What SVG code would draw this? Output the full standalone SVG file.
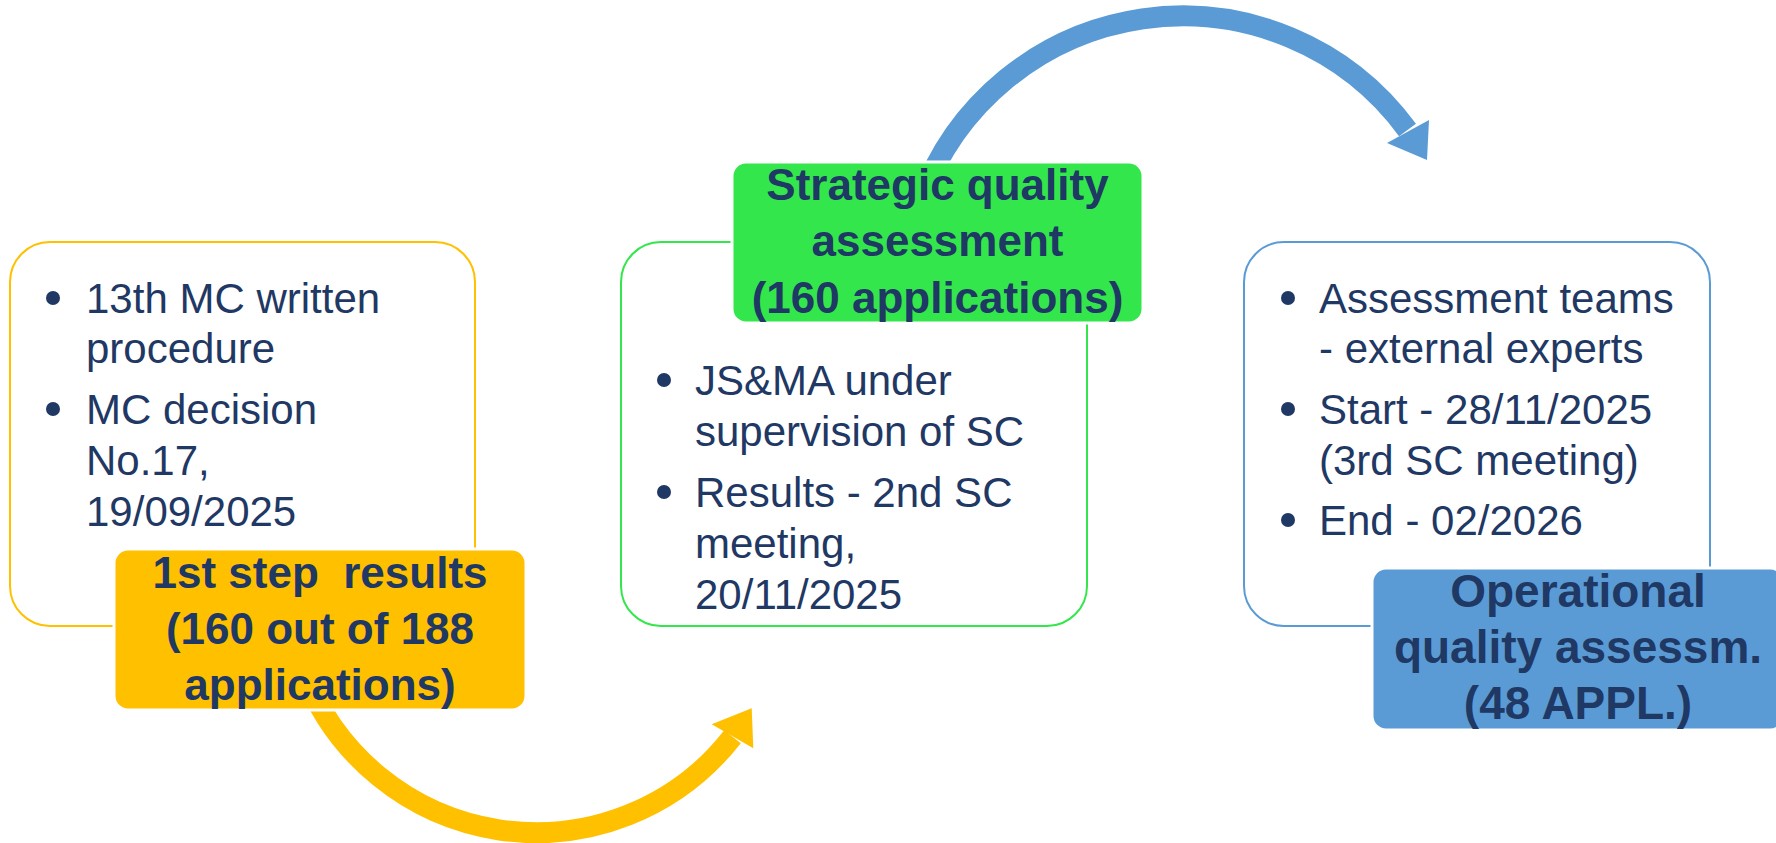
<svg xmlns="http://www.w3.org/2000/svg" width="1776" height="843" viewBox="0 0 1776 843">
  <style>
    .body { font-family: "Liberation Sans", Arial, sans-serif; font-size: 42px; fill: #1F3864; }
    .lbl { font-family: "Liberation Sans", Arial, sans-serif; font-size: 44px; font-weight: bold; fill: #1F3864; text-anchor: middle; white-space: pre; }
    .big { font-size: 46px; }
    .dot { fill: #1F3864; }
    .outline { fill: #FFFFFF; stroke-width: 2; }
    .tag { stroke: #FFFFFF; stroke-width: 3; }
  </style>
  <rect width="1776" height="843" fill="#FFFFFF"/>

  <g id="connectors">
    <path d="M 303.5 671 A 248.5 248.5 0 0 0 732.5 736.7" fill="none" stroke="#FFC000" stroke-width="21"/>
    <polygon points="751.7,708.3 711.7,724.3 753.3,748.3" fill="#FFC000"/>
    <path d="M 920.3 201.3 A 278.5 278.5 0 0 1 1407.5 130" fill="none" stroke="#5B9BD5" stroke-width="21"/>
    <polygon points="1427,160 1387,143 1429,120" fill="#5B9BD5"/>
  </g>

  <g id="box-first-step">
    <rect class="outline" x="10" y="242" width="465" height="384" rx="40" stroke="#FFC000"/>
    <circle class="dot" cx="53" cy="298" r="7"/>
    <circle class="dot" cx="53" cy="409" r="7"/>
    <text class="body" x="86" y="313">13th MC written</text>
    <text class="body" x="86" y="363">procedure</text>
    <text class="body" x="86" y="424">MC decision</text>
    <text class="body" x="86" y="475">No.17,</text>
    <text class="body" x="86" y="526">19/09/2025</text>
  </g>
  <g id="label-first-step">
    <rect class="tag" x="114" y="549" width="412" height="161" rx="14" fill="#FFC000"/>
    <text class="lbl" x="320" y="588">1st step  results</text>
    <text class="lbl" x="320" y="644">(160 out of 188</text>
    <text class="lbl" x="320" y="700">applications)</text>
  </g>

  <g id="box-strategic">
    <rect class="outline" x="621" y="242" width="466" height="384" rx="40" stroke="#33E64B"/>
    <circle class="dot" cx="664" cy="380" r="7"/>
    <circle class="dot" cx="664" cy="492" r="7"/>
    <text class="body" x="695" y="395">JS&amp;MA under</text>
    <text class="body" x="695" y="446">supervision of SC</text>
    <text class="body" x="695" y="507">Results - 2nd SC</text>
    <text class="body" x="695" y="558">meeting,</text>
    <text class="body" x="695" y="609">20/11/2025</text>
  </g>
  <g id="label-strategic">
    <rect class="tag" x="732" y="162" width="411" height="161" rx="14" fill="#33E64B"/>
    <text class="lbl" x="937.5" y="200">Strategic quality</text>
    <text class="lbl" x="937.5" y="256">assessment</text>
    <text class="lbl" x="937.5" y="313">(160 applications)</text>
  </g>

  <g id="box-operational">
    <rect class="outline" x="1244" y="242" width="466" height="384" rx="40" stroke="#5B9BD5"/>
    <circle class="dot" cx="1288" cy="298" r="7"/>
    <circle class="dot" cx="1288" cy="409" r="7"/>
    <circle class="dot" cx="1288" cy="520" r="7"/>
    <text class="body" x="1319" y="313">Assessment teams</text>
    <text class="body" x="1319" y="363">- external experts</text>
    <text class="body" x="1319" y="424">Start - 28/11/2025</text>
    <text class="body" x="1319" y="475">(3rd SC meeting)</text>
    <text class="body" x="1319" y="535">End - 02/2026</text>
  </g>
  <g id="label-operational">
    <rect class="tag" x="1372" y="568" width="412" height="162" rx="14" fill="#5B9BD5"/>
    <text class="lbl big" x="1578" y="607">Operational</text>
    <text class="lbl big" x="1578" y="663">quality assessm.</text>
    <text class="lbl big" x="1578" y="719">(48 APPL.)</text>
  </g>
</svg>
